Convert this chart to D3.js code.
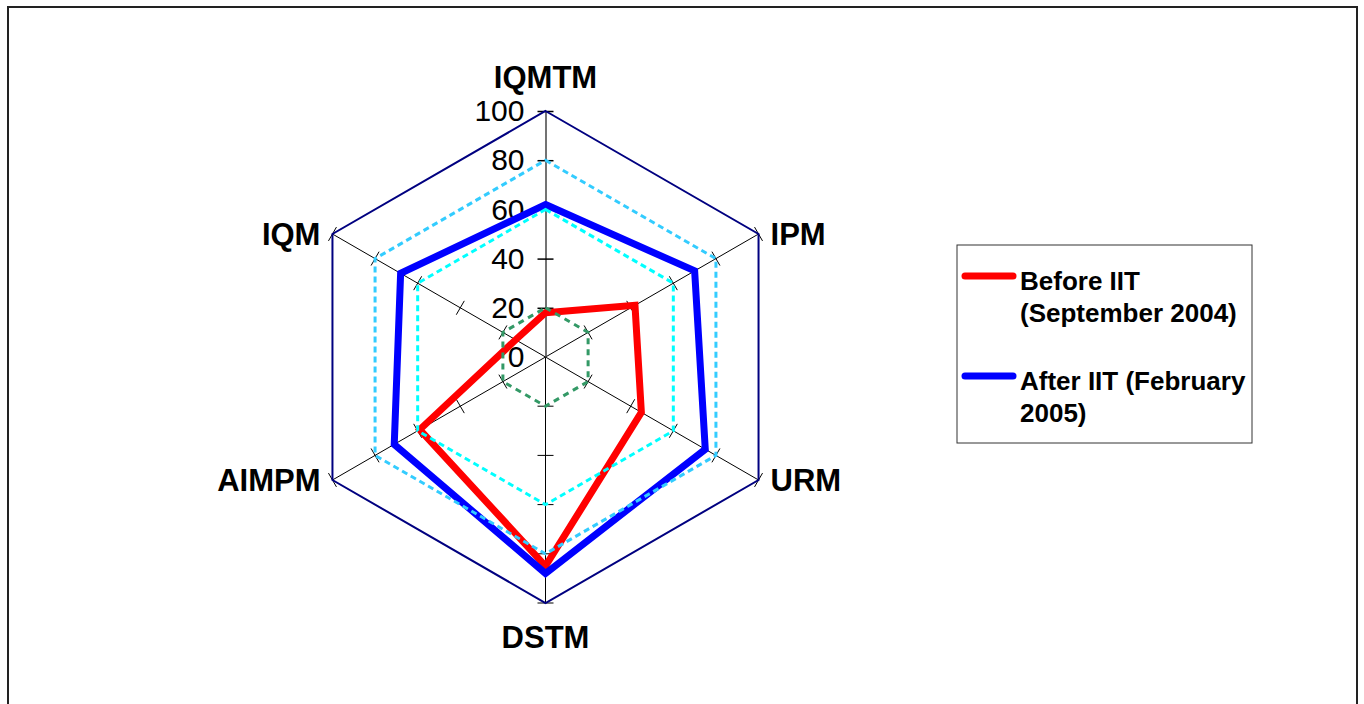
<!DOCTYPE html>
<html>
<head>
<meta charset="utf-8">
<script src="https://cdn.jsdelivr.net/npm/d3@7"></script>
<style>
  html, body { margin: 0; padding: 0; background: #fff; }
  svg { display: block; }
  text { font-family: Arial, "Liberation Sans", sans-serif; }
</style>
</head>
<body>
<svg id="chart" width="1364" height="704"></svg>
<script>
// Radar chart: management indicators before and after IIT
const categories = ["IQMTM", "IPM", "URM", "DSTM", "AIMPM", "IQM"];
const beforeValues = [18, 42, 45, 85, 59, 14];
const afterValues = [62, 70, 75, 88, 71, 68];
const tickValues = [0, 20, 40, 60, 80, 100];
const seriesNames = [["Before IIT", "(September 2004)"], ["After IIT (February", "2005)"]];

// Reference rings: level, colour, dash pattern, width
const rings = [
  { level: 20, color: "#339966", dash: "6,5", width: 3 },
  { level: 60, color: "#00FFFF", dash: "6,4", width: 3 },
  { level: 80, color: "#33CCFF", dash: "6,4", width: 3 },
  { level: 100, color: "#000080", dash: null, width: 2 }
];

const svg = d3.select("#chart");
const cx = 545.5, cy = 357, R = 246;

const r = d3.scaleLinear().domain([0, 100]).range([0, R]);
const angle = d3.scaleLinear().domain([0, categories.length]).range([0, 2 * Math.PI]);

function pt(i, v) {
  const a = angle(i);
  return [cx + r(v) * Math.sin(a), cy - r(v) * Math.cos(a)];
}

// Outer frame
svg.append("rect")
  .attr("x", 8).attr("y", 7).attr("width", 1349).attr("height", 720)
  .attr("fill", "none").attr("stroke", "#222").attr("stroke-width", 2);

const closedLine = d3.line().curve(d3.curveLinearClosed);

// Spokes
const spokes = svg.append("g");
categories.forEach((c, i) => {
  if (i === 0) return;
  const [x2, y2] = pt(i, 100);
  spokes.append("line")
    .attr("x1", cx).attr("y1", cy).attr("x2", x2).attr("y2", y2)
    .attr("stroke", "#000").attr("stroke-width", 1);
  // tick marks across each spoke
  const a = angle(i);
  const px = Math.cos(a), py = Math.sin(a);
  tickValues.slice(1).forEach(t => {
    const [x, y] = pt(i, t);
    spokes.append("line")
      .attr("x1", x - 8 * px).attr("y1", y - 8 * py)
      .attr("x2", x + 8 * px).attr("y2", y + 8 * py)
      .attr("stroke", "#000").attr("stroke-width", 1);
  });
});

// Value axis on the top spoke
const yAxisScale = d3.scaleLinear().domain([0, 100]).range([cy, cy - R]);
const axisG = svg.append("g")
  .attr("transform", `translate(${cx},0)`)
  .call(d3.axisLeft(yAxisScale).tickValues(tickValues).tickSize(8).tickPadding(13).tickSizeOuter(0));
axisG.attr("font-size", 30).attr("font-family", "Arial, 'Liberation Sans', sans-serif");
axisG.select(".domain").attr("stroke", "#444").attr("stroke-width", 1.5);
axisG.selectAll(".tick line")
  .attr("x1", -8).attr("x2", 8)
  .attr("stroke", "#000").attr("stroke-width", 1.5)
  .filter(d => d === 0).remove();
axisG.selectAll(".tick text")
  .attr("font-size", 30)
  .attr("fill", "#000");

// Data series (before underneath, after on top)
const series = [
  { values: beforeValues, color: "#FF0000" },
  { values: afterValues, color: "#0000FF" }
];
series.forEach(s => {
  svg.append("path")
    .attr("d", closedLine(s.values.map((v, i) => pt(i, v))))
    .attr("fill", "none")
    .attr("stroke", s.color)
    .attr("stroke-width", 7)
    .attr("stroke-linejoin", "miter");
});

// Rings
rings.forEach(g => {
  svg.append("path")
    .attr("d", closedLine(categories.map((c, i) => pt(i, g.level))))
    .attr("fill", "none")
    .attr("stroke", g.color)
    .attr("stroke-width", g.width)
    .attr("stroke-dasharray", g.dash);
});

// Category labels
const labelPos = [
  { dx: 0, dy: -34, anchor: "middle" },
  { dx: 12, dy: 0, anchor: "start" },
  { dx: 12, dy: 0, anchor: "start" },
  { dx: 0, dy: 34, anchor: "middle" },
  { dx: -12, dy: 0, anchor: "end" },
  { dx: -12, dy: 0, anchor: "end" }
];
categories.forEach((c, i) => {
  const [x, y] = pt(i, 100);
  svg.append("text")
    .attr("x", x + labelPos[i].dx)
    .attr("y", y + labelPos[i].dy)
    .attr("dy", "0.36em")
    .attr("text-anchor", labelPos[i].anchor)
    .attr("font-size", 31)
    .attr("font-weight", "bold")
    .attr("fill", "#000")
    .text(c);
});

// Legend
const legend = svg.append("g");
legend.append("rect")
  .attr("x", 957).attr("y", 245).attr("width", 295).attr("height", 198)
  .attr("fill", "#fff").attr("stroke", "#333").attr("stroke-width", 1);
const legendY = [276, 376];
series.forEach((s, k) => {
  legend.append("line")
    .attr("x1", 965).attr("x2", 1013)
    .attr("y1", legendY[k]).attr("y2", legendY[k])
    .attr("stroke", s.color).attr("stroke-width", 7)
    .attr("stroke-linecap", "round");
  const t = legend.append("text")
    .attr("x", 1020).attr("y", legendY[k] + 14)
    .attr("font-size", 26).attr("font-weight", "bold").attr("fill", "#000");
  seriesNames[k].forEach((line, j) => {
    t.append("tspan").attr("x", 1020).attr("dy", j === 0 ? 0 : 32).text(line);
  });
});
</script>
</body>
</html>
